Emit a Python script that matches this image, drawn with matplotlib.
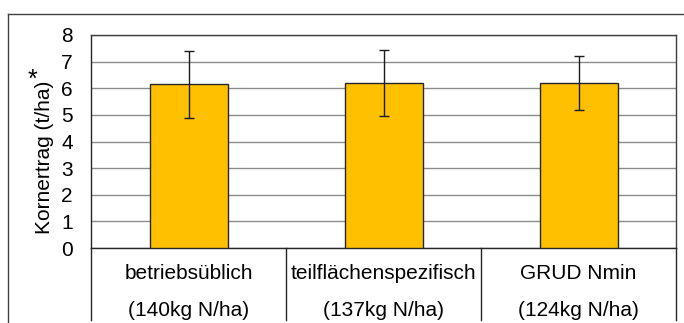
import matplotlib
matplotlib.use("Agg")
from matplotlib import pyplot as plt
from matplotlib.lines import Line2D

plt.rcParams['font.family'] = ['Liberation Sans', 'DejaVu Sans']

# data
categories = ['betriebsüblich', 'teilflächenspezifisch', 'GRUD Nmin']
n_rates = ['(140kg N/ha)', '(137kg N/ha)', '(124kg N/ha)']
yields = [6.15, 6.2, 6.2]
errors = [1.25, 1.25, 1.03]
y_ticks = [0, 1, 2, 3, 4, 5, 6, 7, 8]

fig = plt.figure(figsize=(6.84, 3.23), dpi=100)
ax = fig.add_axes([91 / 684, 75 / 323, 585 / 684, 213 / 323])

x = list(range(len(categories)))
ax.bar(x, yields, width=0.4, color='#FFC000', edgecolor='#262626', linewidth=1, zorder=3)
ax.errorbar(x, yields, yerr=errors, fmt='none', ecolor='#1a1a1a', elinewidth=1,
            capsize=3.5, capthick=1, zorder=4)

ax.set_xlim(-0.5, len(categories) - 0.5)
ax.set_ylim(0, 8)
ax.set_yticks(y_ticks)
ax.set_yticklabels([str(t) for t in y_ticks], fontsize=15)
ax.set_xticks([])
ax.tick_params(axis='y', length=0, pad=13)
ax.yaxis.grid(True, color='#8c8c8c', linewidth=1, zorder=0)
ax.set_axisbelow(True)

for side in ['top', 'right']:
    ax.spines[side].set_color('#404040')
for side in ['left', 'bottom']:
    ax.spines[side].set_color('#262626')
for sp in ax.spines.values():
    sp.set_linewidth(1)

# category table below the axis
trans = ax.get_xaxis_transform()
for b in [-0.5, 0.5, 1.5, 2.5]:
    ax.plot([b, b], [0, -0.34], color='#262626', lw=1, transform=trans, clip_on=False)
for i, (c, n) in enumerate(zip(categories, n_rates)):
    ax.text(i, -0.12, c, transform=trans, ha='center', va='center', fontsize=15)
    ax.text(i, -0.295, n, transform=trans, ha='center', va='center', fontsize=15)

# y label with superscript star
fig.text(45 / 684, 1 - 157 / 323, 'Kornertrag (t/ha)', rotation=90, ha='center',
         va='center', fontsize=15)
fig.text(32 / 684, 1 - 80 / 323, '*', ha='center', va='center', fontsize=18)

# outer frame
fig.add_artist(Line2D([8 / 684, 8 / 684], [0, 1 - 14 / 323], color='#404040', lw=1))
fig.add_artist(Line2D([8 / 684, 1], [1 - 14 / 323, 1 - 14 / 323], color='#404040', lw=1))

fig.savefig('out.png', dpi=100)
